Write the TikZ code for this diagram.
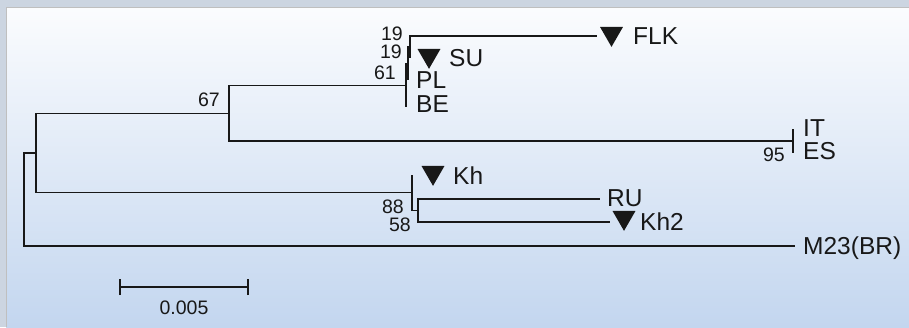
\documentclass[tikz,border=0pt]{standalone}
\usepackage{fontspec}
\setmainfont{Liberation Sans}
\usetikzlibrary{shapes.geometric}
\definecolor{frameclr}{HTML}{CCD5E1}
\definecolor{topclr}{HTML}{FBFCFE}
\definecolor{midclr}{HTML}{EAF0F8}
\definecolor{botclr}{HTML}{C3D6EF}
\definecolor{inkclr}{HTML}{181818}
\tikzset{
  branch/.style={draw=inkclr, line width=1.7pt},
  leaflbl/.style={anchor=west, inner sep=0pt, font=\fontsize{24.5}{25}\selectfont, text height=17.6pt, text depth=0pt, text=inkclr},
  bootlbl/.style={anchor=east, inner sep=0pt, font=\fontsize{19.5}{20}\selectfont, text height=14pt, text depth=0pt, text=inkclr},
  marker/.style={regular polygon, regular polygon sides=3, shape border rotate=180, fill=inkclr, draw=none, minimum size=26.5pt, inner sep=0pt}
}
\begin{document}
\begin{tikzpicture}[x=1pt,y=-1pt]
\useasboundingbox (0,0) rectangle (909,327);
% background
\fill[frameclr] (0,0) rectangle (909,327);
\shade[top color=topclr, middle color=midclr, bottom color=botclr] (6,7) rectangle (909,327);
\draw[color=black!25, line width=0.6pt] (6,327) -- (6,7) -- (909,7);

% internal nodes
\coordinate (r0) at (24,199.5);
\coordinate (n1) at (36,153);
\coordinate (n67) at (229,113.5);
\coordinate (n61) at (406,85.5);
\coordinate (n19b) at (408,63.5);
\coordinate (n19a) at (410,47);
\coordinate (nIT) at (793,141);
\coordinate (n88) at (412,192.5);
\coordinate (n58) at (418,210.5);
% leaf ends
\coordinate (lFLK) at (597,36);
\coordinate (lSU) at (410,58);
\coordinate (lPL) at (408,80);
\coordinate (lBE) at (406,107);
\coordinate (lIT) at (793,129);
\coordinate (lES) at (793,153);
\coordinate (lKh) at (412,175);
\coordinate (lRU) at (600,199);
\coordinate (lKh2) at (610,222);
\coordinate (lM23) at (795,246);

% branches
\draw[branch] (r0) |- (n1);
\draw[branch] (r0) |- (lM23);
\draw[branch] (n1) |- (n67);
\draw[branch] (n1) |- (n88);
\draw[branch] (n67) |- (n61);
\draw[branch] (n67) |- (nIT);
\draw[branch] (n61) |- (n19b);
\draw[branch] (n61) |- (lBE);
\draw[branch] (n19b) |- (n19a);
\draw[branch] (n19b) |- (lPL);
\draw[branch] (n19a) |- (lFLK);
\draw[branch] (n19a) |- (lSU);
\draw[branch] (nIT) |- (lIT);
\draw[branch] (nIT) |- (lES);
\draw[branch] (n88) |- (lKh);
\draw[branch] (n88) |- (n58);
\draw[branch] (n58) |- (lRU);
\draw[branch] (n58) |- (lKh2);

% markers
\node[marker] (mFLK) at (611.5,33.6) {};
\node[marker] (mSU) at (429,55.6) {};
\node[marker] (mKh) at (433,172.6) {};
\node[marker] (mKh2) at (624,217.6) {};

% leaf labels
\node[leaflbl] (tFLK) at (633,36) {FLK};
\node[leaflbl] (tSU) at (449,58) {SU};
\node[leaflbl] (tPL) at (416,80) {PL};
\node[leaflbl] (tBE) at (416,104) {BE};
\node[leaflbl] (tIT) at (803,128) {IT};
\node[leaflbl] (tES) at (803,151) {ES};
\node[leaflbl] (tKh) at (453,176) {Kh};
\node[leaflbl] (tRU) at (607,198) {RU};
\node[leaflbl] (tKh2) at (640,222) {Kh2};
\node[leaflbl] (tM23) at (803,246) {M23(BR)};

% bootstrap values
\node[bootlbl] (b19a) at (403,33) {19};
\node[bootlbl] (b19b) at (402,51) {19};
\node[bootlbl] (b61) at (396,72) {61};
\node[bootlbl] (b67) at (220,99) {67};
\node[bootlbl] (b95) at (785,154) {95};
\node[bootlbl] (b88) at (404,206) {88};
\node[bootlbl] (b58) at (411,224) {58};

% scale bar
\coordinate (sbL) at (120,287);
\coordinate (sbR) at (248,287);
\draw[branch] (sbL) -- (sbR);
\draw[branch] ([yshift=-8pt]sbL) -- ([yshift=8pt]sbL);
\draw[branch] ([yshift=-8pt]sbR) -- ([yshift=8pt]sbR);
\node[inner sep=0pt, font=\fontsize{19.5}{20}\selectfont, text height=14pt, text depth=0pt, text=inkclr] (sbT) at (184,307) {0.005};
\end{tikzpicture}
\end{document}
